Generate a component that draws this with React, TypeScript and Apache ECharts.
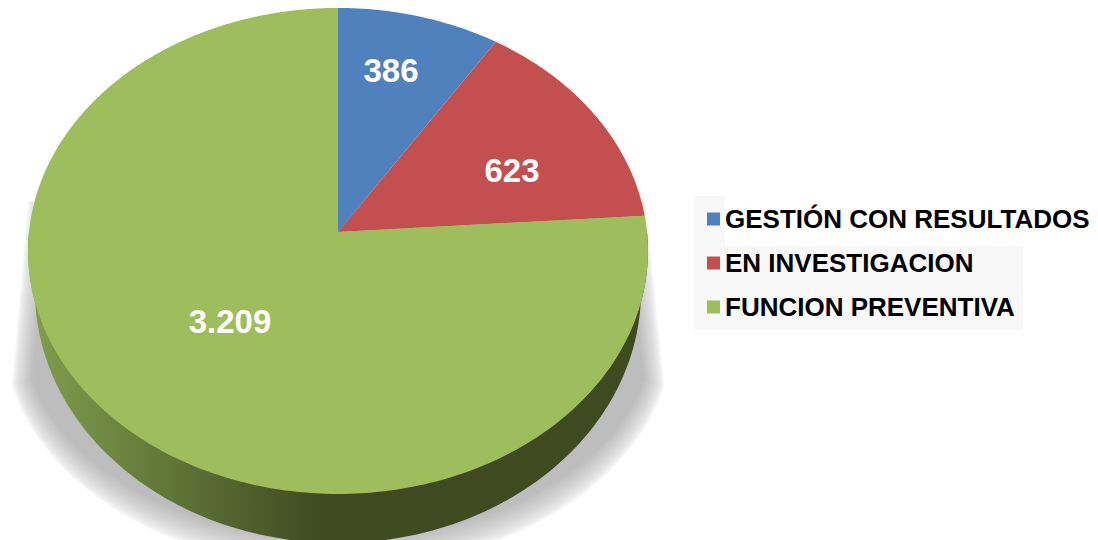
import React, { useEffect, useRef } from "react";
import * as echarts from "echarts";

const categories = ["GESTIÓN CON RESULTADOS", "EN INVESTIGACION", "FUNCION PREVENTIVA"];
const values = [386, 623, 3209];
const colors = ["#4f81bd", "#c3504f", "#9ebd5c"];
const labelOffsets = [[53, -162], [174, -62], [-108, 89]];

const CX = 338, CY = 232, RX = 309, A = 241.5, K = 0.078;
const total = values.reduce((a, b) => a + b, 0);

const project = (deg: number): number[] => {
  const t = (deg * Math.PI) / 180;
  const d = 1 + K * Math.cos(t);
  return [CX + (RX * Math.sin(t)) / d, CY - (A * Math.cos(t)) / d];
};
const arc = (from: number, to: number): number[][] => {
  const pts: number[][] = [];
  const n = Math.max(2, Math.ceil(Math.abs(to - from)));
  for (let i = 0; i <= n; i++) pts.push(project(from + ((to - from) * i) / n));
  return pts;
};
const ellipse = (cx: number, cy: number, rx: number, ry: number, from: number, to: number): number[][] => {
  const pts: number[][] = [];
  const n = Math.ceil(Math.abs(to - from));
  for (let i = 0; i <= n; i++) {
    const t = ((from + ((to - from) * i) / n) * Math.PI) / 180;
    pts.push([cx + rx * Math.cos(t), cy + ry * Math.sin(t)]);
  }
  return pts;
};
const fmt = (v: number) => String(v).replace(/\B(?=(\d{3})+$)/g, ".");

const sliceSeries = (i: number) => {
  const start = (values.slice(0, i).reduce((a, b) => a + b, 0) / total) * 360;
  const end = start + (values[i] / total) * 360;
  return {
    type: "custom",
    name: categories[i],
    coordinateSystem: "none",
    silent: true,
    z: 3,
    data: [values[i]],
    itemStyle: { color: colors[i] },
    renderItem: (_: any, api: any) => ({
      type: "group",
      children: [
        {
          type: "polygon",
          shape: { points: [[CX, CY], ...arc(start, end)] },
          style: { fill: api.visual("color") },
        },
        {
          type: "text",
          z2: 10,
          style: {
            x: CX + labelOffsets[i][0],
            y: CY + labelOffsets[i][1],
            text: fmt(api.value(0)),
            fill: "#ffffff",
            font: 'bold 33px "Liberation Sans", Arial, sans-serif',
            align: "center",
            verticalAlign: "middle",
          },
        },
      ],
    }),
  };
};

// soft drop shadow, built from nested translucent outlines
const shadowLayers = () => {
  const N = 22;
  const sc = 338, sy0 = 333, srx = 335, sry = 237, inset = 30;
  const alpha = 1 - Math.pow(0.8, 1 / N);
  const layers: any[] = [];
  for (let j = 0; j < N; j++) {
    const d = Math.pow(j / (N - 1), 1.5) * inset;
    const kx = (srx - d * 0.7) / srx;
    const ky = (sry - d) / sry;
    const outline = ellipse(sc, sy0, srx, sry, 0, 180).filter((p) => p[1] >= 383);
    const pts = [[646, 200], ...outline, [28, 200]].map((p) => [
      sc + (p[0] - sc) * kx,
      sy0 + (p[1] - sy0) * ky,
    ]);
    layers.push({
      type: "polygon",
      shape: { points: pts },
      style: { fill: `rgba(0,0,0,${alpha})` },
    });
  }
  return layers;
};

const baseSeries = {
  type: "custom",
  name: "base",
  coordinateSystem: "none",
  silent: true,
  z: 1,
  data: [total],
  renderItem: () => {
    const bottom = ellipse(338, 291, 303, 252, 0, 180);
    const topEdge = arc(90, 270);
    return {
      type: "group",
      children: [
        ...shadowLayers(),
        {
          type: "polygon",
          shape: { points: [...bottom, ...topEdge] },
          style: {
            fill: {
              type: "linear", x: 30, y: 0, x2: 320, y2: 0, global: true,
              colorStops: [
                { offset: 0, color: "#809f4d" },
                { offset: 1, color: "#3f4a21" },
              ],
            },
          },
        },
      ],
    };
  },
};

export default function App() {
  const ref = useRef<HTMLDivElement>(null);
  useEffect(() => {
    document.body.style.margin = "0";
    const chart = echarts.init(ref.current!, undefined, { renderer: "svg" });
    chart.setOption({
      animation: false,
      backgroundColor: "#ffffff",
      color: colors,
      legend: {
        data: categories,
        orient: "vertical",
        left: 707,
        top: 206,
        itemWidth: 13,
        itemHeight: 13,
        itemGap: 18,
        icon: "rect",
        selectedMode: false,
        padding: 0,
        z: 5,
        textStyle: {
          color: "#000000",
          fontFamily: '"Liberation Sans", Arial, sans-serif',
          fontWeight: "bold",
          fontSize: 26,
        },
      },
      graphic: [
        { type: "rect", z: 0, shape: { x: 694, y: 196, width: 31, height: 50 }, style: { fill: "#f8f8f8" } },
        { type: "rect", z: 0, shape: { x: 694, y: 246, width: 329, height: 84 }, style: { fill: "#f8f8f8" } },
      ],
      series: [baseSeries, sliceSeries(0), sliceSeries(1), sliceSeries(2)],
    });
    return () => chart.dispose();
  }, []);
  return <div ref={ref} style={{ width: 1098, height: 540 }} />;
}
